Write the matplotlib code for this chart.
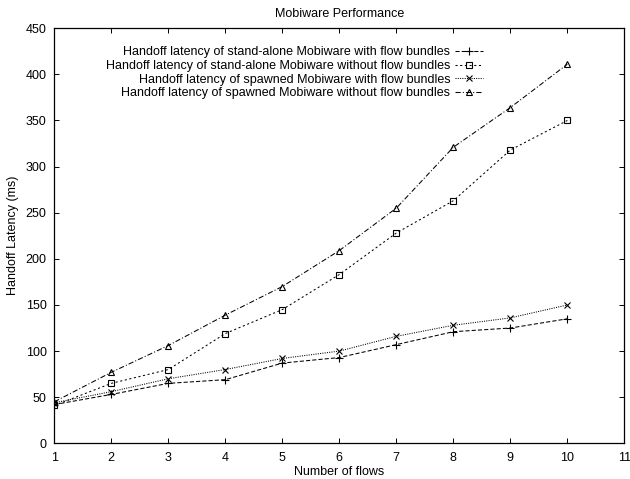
import matplotlib
matplotlib.use("Agg")
import matplotlib.pyplot as plt

plt.rcParams['font.family'] = ['Liberation Sans', 'DejaVu Sans']

flows = [1, 2, 3, 4, 5, 6, 7, 8, 9, 10]
standalone_with = [42, 53, 65, 69, 87, 93, 107, 121, 125, 135]
standalone_without = [41, 65, 80, 119, 145, 183, 228, 263, 318, 350]
spawned_with = [44, 56, 70, 80, 92, 100, 116, 128, 136, 150]
spawned_without = [45, 77, 106, 139, 170, 209, 255, 321, 364, 411]

labels = [
    "Handoff latency of stand-alone Mobiware with flow bundles",
    "Handoff latency of stand-alone Mobiware without flow bundles",
    "Handoff latency of spawned Mobiware with flow bundles",
    "Handoff latency of spawned Mobiware without flow bundles",
]
xticks = list(range(1, 12))
yticks = list(range(0, 451, 50))

FS = 9

fig = plt.figure(figsize=(6.3, 4.79), dpi=100)
ax = fig.add_axes([0.0862, 0.0745, 0.991 - 0.0862, 0.941 - 0.0745])

lw = 0.75
ax.plot(flows, standalone_with, color='black', lw=lw, linestyle=(0, (4, 2)),
        marker='+', ms=6, mew=0.8, label=labels[0])
ax.plot(flows, standalone_without, color='black', lw=lw, linestyle=(0, (2, 2.5)),
        marker='s', ms=5, mfc='none', mew=0.8, label=labels[1])
ax.plot(flows, spawned_with, color='black', lw=lw, linestyle=(0, (1, 1.2)),
        marker='x', ms=5, mew=0.8, label=labels[2])
ax.plot(flows, spawned_without, color='black', lw=lw, linestyle=(0, (5, 2, 1, 2)),
        marker='^', ms=5, mfc='none', mew=0.8, label=labels[3])

ax.set_xlim(1, 11)
ax.set_ylim(0, 450)
ax.set_xticks(xticks)
ax.set_yticks(yticks)
ax.tick_params(direction='in', top=True, right=True, labelsize=FS, length=3.6, width=0.7)
ax.tick_params(axis='x', pad=6.5)
ax.tick_params(axis='y', pad=5.5)
for s in ax.spines.values():
    s.set_linewidth(0.9)

ax.set_xlabel("Number of flows", fontsize=FS, labelpad=1)
ax.set_ylabel("Handoff Latency (ms)", fontsize=FS, labelpad=5)
ax.set_title("Mobiware Performance", fontsize=FS, pad=8)

leg = ax.legend(loc='upper right', bbox_to_anchor=(0.768, 0.978), frameon=False,
                markerfirst=False, fontsize=FS, handlelength=2.25, handletextpad=0.4,
                labelspacing=0.14, borderpad=0.2)

fig.savefig("out.png", dpi=100)
